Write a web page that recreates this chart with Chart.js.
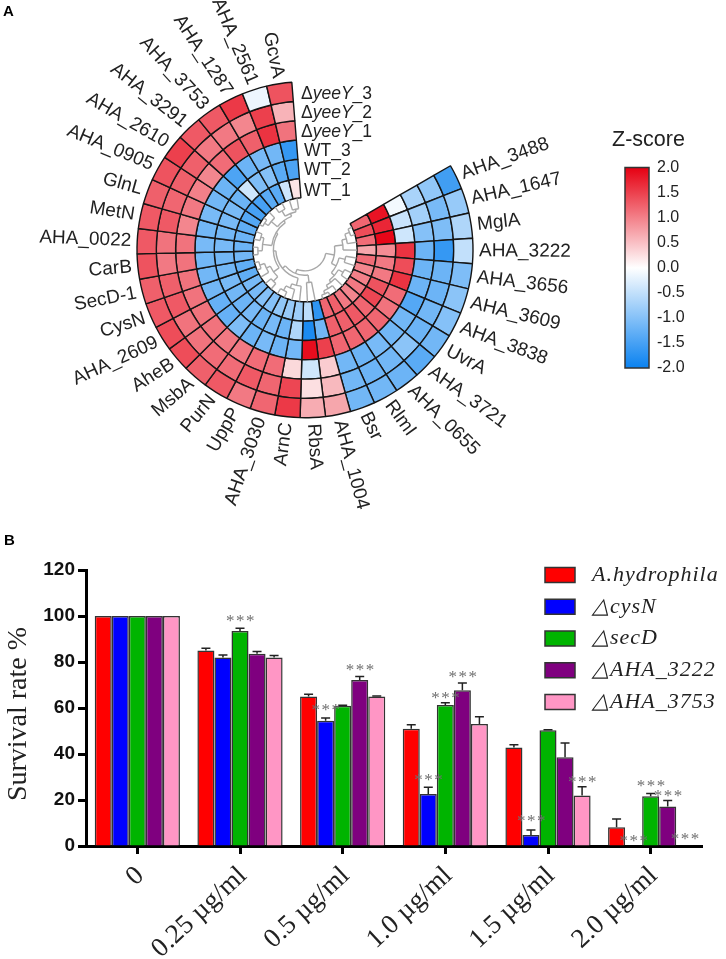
<!DOCTYPE html>
<html>
<head>
<meta charset="utf-8">
<style>
  body { margin: 0; background: #fff; width: 726px; height: 959px; overflow: hidden; position: relative; }
  canvas { position: absolute; left: 0; }
  #heat { top: 0; }
  #bars { top: 530px; }
</style>
<script src="https://cdn.jsdelivr.net/npm/chart.js@4"></script>
</head>
<body>
<canvas id="heat" width="726" height="530"></canvas>
<canvas id="bars" width="726" height="429"></canvas>
<script>
// panel A: clockwise from the gap
const genes = ["AHA_3488","AHA_1647","MglA","AHA_3222","AHA_3656","AHA_3609","AHA_3838","UvrA","AHA_3721","AHA_0655","RlmI","Bsr","AHA_1004","RbsA","ArnC","AHA_3030","UppP","PurN","MsbA","AheB","AHA_2609","CysN","SecD-1","CarB","AHA_0022","MetN","GlnL","AHA_0905","AHA_2610","AHA_3291","AHA_3753","AHA_1287","AHA_2561","GcvA"];
const yeeY3 = [-1.55,-0.85,-0.65,-0.5,-1.05,-0.95,-1.0,-1.15,-1.35,-1.2,-1.15,-1.15,0.7,0.65,1.55,1.2,1.05,1.3,1.25,1.4,1.4,1.3,1.25,1.35,1.3,1.3,1.25,1.35,1.5,1.3,1.3,1.55,-0.15,1.35];
const yeeY2 = [-0.9,-1.1,-1.05,-1.65,-1.2,-1.2,-1.15,-1.2,-0.95,-1.15,-1.2,-1.15,0.55,0.25,1.45,1.2,1.3,1.15,1.15,1.1,1.1,1.3,1.25,1.05,1.1,1.3,1.2,1.25,1.25,1.05,1.05,0.95,1.5,0.6];
const yeeY1 = [-0.7,-0.75,-1.0,-1.2,-1.2,-1.2,-1.4,-1.15,-1.15,-1.1,-1.2,-1.15,0.4,-0.4,0.3,1.15,1.15,1.05,1.05,1.1,1.1,1.1,1.1,1.1,1.1,0.95,1.05,1.0,0.95,1.15,1.35,1.25,1.6,1.1];
const wt3 = [-0.1,-0.45,-0.4,1.6,1.4,1.6,1.15,1.1,1.2,1.2,1.2,1.2,1.5,1.9,-1.15,-1.2,-1.1,-1.2,-1.05,-1.25,-1.25,-1.15,-1.15,-1.15,-1.1,-1.15,-1.1,-1.15,-1.2,-1.45,-1.2,-1.1,-1.15,-1.65];
const wt2 = [1.85,1.7,1.95,0.9,1.05,1.05,1.35,1.45,1.2,1.3,1.25,1.25,-1.15,-1.85,-0.65,-1.2,-1.1,-1.2,-1.1,-1.2,-1.15,-1.1,-1.15,-1.15,-1.1,-1.15,-1.1,-1.1,-1.2,-0.4,-1.05,-1.0,-1.35,-1.45];
const wt1 = [1.2,1.4,1.15,0.7,1.15,0.95,1.0,1.05,0.95,1.05,1.25,1.2,-1.7,-0.55,-0.8,-0.85,-0.9,-1.0,-1.0,-1.1,-1.1,-1.3,-1.3,-1.15,-1.2,-1.2,-1.3,-1.4,-1.5,-1.5,-1.35,-1.35,-0.4,0.2];
const rings = [yeeY3, yeeY2, yeeY1, wt3, wt2, wt1];
const zTicks = [2.0,1.5,1.0,0.5,0.0,-0.5,-1.0,-1.5,-2.0];
// [height, child, child], numbers are indexes into genes
const dendro = [1,
  [0.72,
    [0.45,[0.3,[0.14,0,1],2],3],
    [0.55,[0.35,4,5],[0.42,[0.25,6,7],[0.34,8,[0.22,9,[0.12,10,11]]]]]],
  [0.86,
    [0.62,12,13],
    [0.74,
      [0.5,14,[0.36,15,[0.2,16,17]]],
      [0.66,
        [0.44,[0.24,18,19],[0.3,20,[0.14,21,22]]],
        [0.6,[0.3,[0.16,23,24],[0.2,25,26]],
          [0.52,[0.26,[0.12,27,28],29],[0.42,[0.22,30,31],[0.34,32,33]]]]]]]];

// panel B
const doses = ["0","0.25 µg/ml","0.5 µg/ml","1.0 µg/ml","1.5 µg/ml","2.0 µg/ml"];
const strains = ["A.hydrophila","△cysN","△secD","△AHA_3222","△AHA_3753"];
const wildType = [100,85,65,51,42.8,8.1];
const cysN = [100,82,54.5,22.6,4.8,0];
const secD = [100,93.5,61,61.3,50.3,21.6];
const aha3222 = [100,83.6,72.2,67.7,38.6,17.2];
const aha3753 = [100,82,65,53,22,0.3];
const wildTypeErr = [0,1,1,1.7,1.2,3.6];
const cysNErr = [0,1,1.2,2.9,2.2,0];
const secDErr = [0,1.2,0.2,1,0.2,1.2];
const aha3222Err = [0,1,1.5,3.2,6.2,2.6];
const aha3753Err = [0,0.8,0.2,3.2,3.8,0];
const barColors = ["#ff0000","#0000ff","#00b400","#7f007f","#ff96c5"];
// dose index, strain index, height of the stars on the y axis
const stars = [[1,2,98.7],[2,1,60],[2,3,77.5],[3,1,29.7],[3,2,65.6],[3,3,74.7],[4,1,12],[4,4,29],[5,1,3.2],[5,2,27],[5,3,23],[5,4,4]];

function zColor(z) {
  const t = Math.min(Math.abs(z) / 2, 1);
  const end = z >= 0 ? [230,0,18] : [10,130,240];
  const c = end.map(v => Math.round(255 + (v - 255) * t));
  return `rgb(${c[0]},${c[1]},${c[2]})`;
}

const heatLabels = {
  id: "heatLabels",
  afterDatasetsDraw(chart) {
    const ctx = chart.ctx;
    const arcs = chart.getDatasetMeta(0).data;
    const inner = chart.getDatasetMeta(rings.length - 1).data[0].innerRadius;
    const cx = arcs[0].x, cy = arcs[0].y, outer = arcs[0].outerRadius;
    const mid = i => (arcs[i].startAngle + arcs[i].endAngle) / 2;

    // dendrogram
    const rad = h => inner - 31 * h;
    ctx.save();
    ctx.strokeStyle = "#a8a8a8";
    ctx.lineWidth = 1.4;
    function drawNode(node) {
      if (typeof node === "number") return { a: mid(node), r: inner };
      const l = drawNode(node[1]), r = drawNode(node[2]), rr = rad(node[0]);
      ctx.beginPath();
      ctx.arc(cx, cy, rr, l.a, r.a);
      ctx.stroke();
      [l, r].forEach(k => {
        ctx.beginPath();
        ctx.moveTo(cx + rr * Math.cos(k.a), cy + rr * Math.sin(k.a));
        ctx.lineTo(cx + k.r * Math.cos(k.a), cy + k.r * Math.sin(k.a));
        ctx.stroke();
      });
      return { a: (l.a + r.a) / 2, r: rr };
    }
    drawNode(dendro);
    ctx.restore();

    // gene names, flipped past the bottom of the circle
    // the near-vertical ones lean a bit off the radius in the original
    ctx.save();
    ctx.fillStyle = "#222";
    ctx.font = "19px 'Liberation Sans'";
    ctx.textBaseline = "middle";
    genes.forEach((g, i) => {
      const a = mid(i);
      const tilt = Math.atan2(0.75 * Math.sin(a), Math.cos(a));
      ctx.save();
      ctx.translate(cx + (outer + 6) * Math.cos(a), cy + (outer + 6) * Math.sin(a));
      if (a < Math.PI / 2) {
        ctx.rotate(tilt);
        ctx.textAlign = "left";
      } else {
        ctx.rotate(tilt + Math.PI);
        ctx.textAlign = "right";
      }
      ctx.fillText(g, 0, 0);
      ctx.restore();
    });
    ctx.restore();

    // row names
    const rows = [["Δ","yeeY","_3",94],["Δ","yeeY","_2",113],["Δ","yeeY","_1",132],["WT_3","","",151],["WT_2","","",170],["WT_1","","",191]];
    ctx.save();
    ctx.fillStyle = "#222";
    ctx.textBaseline = "middle";
    rows.forEach(([a, b, c, y]) => {
      let x = a === "Δ" ? 301 : 304;
      ctx.font = "17.5px 'Liberation Sans'";
      ctx.fillText(a, x, y);
      x += ctx.measureText(a).width;
      ctx.font = "italic 17.5px 'Liberation Sans'";
      ctx.fillText(b, x, y);
      x += ctx.measureText(b).width;
      ctx.font = "17.5px 'Liberation Sans'";
      ctx.fillText(c, x, y);
    });
    ctx.restore();

    // colour bar
    const top = 167.5, bottom = 368, left = 625, width = 24;
    const grad = ctx.createLinearGradient(0, top, 0, bottom);
    zTicks.forEach((z, i) => grad.addColorStop(i / (zTicks.length - 1), zColor(z)));
    ctx.save();
    ctx.fillStyle = grad;
    ctx.fillRect(left, top, width, bottom - top);
    ctx.strokeStyle = "#333";
    ctx.lineWidth = 1.5;
    ctx.strokeRect(left, top, width, bottom - top);
    ctx.fillStyle = "#222";
    ctx.font = "16px 'Liberation Sans'";
    ctx.textBaseline = "middle";
    zTicks.forEach((z, i) => {
      ctx.fillText(z.toFixed(1), 657, top + (bottom - top) * i / (zTicks.length - 1));
    });
    ctx.font = "21.5px 'Liberation Sans'";
    ctx.fillText("Z-score", 612, 140);
    ctx.font = "bold 15px 'Liberation Sans'";
    ctx.fillStyle = "#000";
    ctx.textBaseline = "alphabetic";
    ctx.fillText("A", 3, 16);
    ctx.restore();
  }
};

new Chart(document.getElementById("heat"), {
  type: "doughnut",
  data: {
    labels: genes,
    datasets: rings.map(values => ({
      data: values.map(() => 1),
      backgroundColor: values.map(zColor),
      borderColor: "#151515",
      borderWidth: 1.4,
      borderAlign: "center",
      hoverOffset: 0
    }))
  },
  options: {
    responsive: false,
    animation: false,
    rotation: 60,
    circumference: 295.5,
    radius: 168,
    cutout: "31%",
    layout: { padding: { right: 116, bottom: 30 } },
    plugins: { legend: { display: false }, tooltip: { enabled: false } }
  },
  plugins: [heatLabels]
});

const errors = [wildTypeErr, cysNErr, secDErr, aha3222Err, aha3753Err];

const barExtras = {
  id: "barExtras",
  afterDatasetsDraw(chart) {
    const ctx = chart.ctx, y = chart.scales.y;
    ctx.save();
    // error bars
    ctx.strokeStyle = "#222";
    ctx.lineWidth = 1.5;
    errors.forEach((errs, s) => {
      const bars = chart.getDatasetMeta(s).data;
      errs.forEach((e, i) => {
        if (!e) return;
        const x = bars[i].x, y0 = bars[i].y, y1 = y.getPixelForValue(chart.data.datasets[s].data[i] + e);
        ctx.beginPath();
        ctx.moveTo(x, y0);
        ctx.lineTo(x, y1);
        ctx.moveTo(x - 4.5, y1);
        ctx.lineTo(x + 4.5, y1);
        ctx.stroke();
      });
    });
    // significance stars
    ctx.fillStyle = "#707070";
    ctx.font = "17px 'Liberation Serif'";
    ctx.letterSpacing = "1.5px";
    ctx.textAlign = "center";
    ctx.textBaseline = "middle";
    stars.forEach(([d, s, v]) => {
      ctx.fillText("***", chart.getDatasetMeta(s).data[d].x + 1, y.getPixelForValue(v) + 3);
    });
    ctx.letterSpacing = "0px";
    // axis title
    ctx.save();
    ctx.fillStyle = "#222";
    ctx.font = "28px 'Liberation Serif'";
    ctx.textBaseline = "middle";
    ctx.translate(19, 184);
    ctx.rotate(-Math.PI / 2);
    ctx.textAlign = "center";
    ctx.fillText("Survival rate %", 0, 0);
    ctx.restore();
    // legend
    ctx.textAlign = "left";
    strains.forEach((name, s) => {
      const ly = 45 + s * 31.75;
      ctx.fillStyle = barColors[s];
      ctx.strokeStyle = "#333";
      ctx.lineWidth = 1.5;
      ctx.fillRect(545, ly - 7.5, 30, 15);
      ctx.strokeRect(545, ly - 7.5, 30, 15);
      ctx.fillStyle = "#222";
      ctx.font = "italic 22px 'Liberation Serif'";
      ctx.letterSpacing = "1px";
      ctx.fillText(name, 592, ly);
      ctx.letterSpacing = "0px";
    });
    ctx.fillStyle = "#000";
    ctx.font = "bold 15px 'Liberation Sans'";
    ctx.textBaseline = "alphabetic";
    ctx.fillText("B", 4, 15);
    ctx.restore();
  }
};

const series = [wildType, cysN, secD, aha3222, aha3753];

new Chart(document.getElementById("bars"), {
  type: "bar",
  data: {
    labels: doses,
    datasets: series.map((values, s) => ({
      label: strains[s],
      data: values,
      backgroundColor: barColors[s],
      borderColor: "#333",
      borderWidth: 1.5,
      barPercentage: 1,
      categoryPercentage: 0.83
    }))
  },
  options: {
    responsive: false,
    animation: false,
    layout: { padding: { top: 40, right: 24 } },
    plugins: { legend: { display: false }, tooltip: { enabled: false } },
    scales: {
      x: {
        afterFit: s => { s.height = 113; },
        border: { color: "#000", width: 3 },
        grid: { offset: false, drawOnChartArea: false, color: "#000", tickLength: 8, tickWidth: 3, tickColor: "#000" },
        ticks: { color: "#222", font: { family: "'Liberation Serif'", size: 27 }, maxRotation: 43, minRotation: 43, padding: 6, labelOffset: 3 }
      },
      y: {
        min: 0,
        max: 120,
        afterFit: s => { s.width = 86; },
        border: { color: "#000", width: 3 },
        grid: { drawOnChartArea: false, color: "#000", tickLength: 8, tickWidth: 3, tickColor: "#000" },
        ticks: { stepSize: 20, color: "#111", font: { family: "'Liberation Sans'", size: 19, weight: "bold" }, padding: 3 }
      }
    }
  },
  plugins: [barExtras]
});
</script>
</body>
</html>
